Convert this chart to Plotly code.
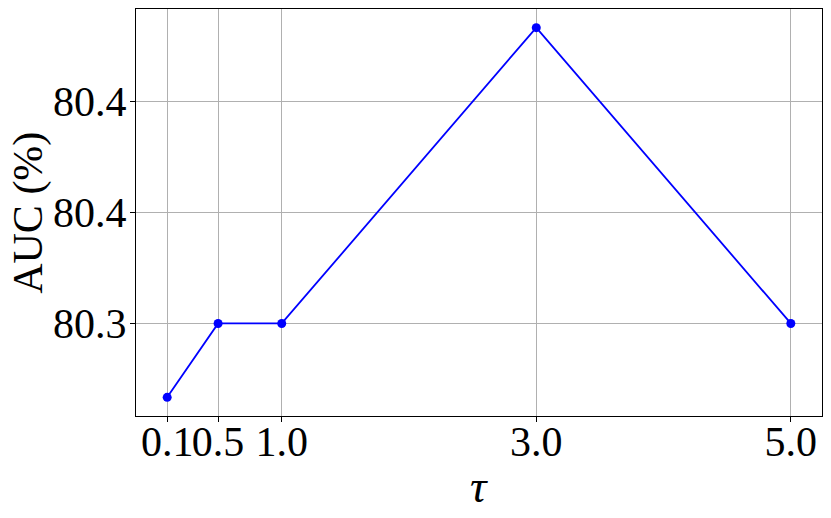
import plotly.graph_objects as go

tau = [0.1, 0.5, 1.0, 3.0, 5.0]
auc = [80.2667, 80.30, 80.30, 80.4333, 80.30]

y_tickvals = [80.30, 80.35, 80.40]
y_ticktext = ["80.3", "80.4", "80.4"]
x_ticktext = ["0.1", "0.5", "1.0", "3.0", "5.0"]

font_family = "Liberation Serif"

fig = go.Figure()

fig.add_trace(
    go.Scatter(
        x=tau,
        y=auc,
        mode="lines+markers",
        line=dict(color="#0000ff", width=1.8),
        marker=dict(color="#0000ff", size=9),
        showlegend=False,
    )
)

# the page body has an 8px margin, so the figure is shrunk to fit the window
fig.update_layout(
    width=823,
    height=510,
    margin=dict(l=128, r=9, t=1, b=102, autoexpand=False),
    paper_bgcolor="white",
    plot_bgcolor="white",
    font=dict(family=font_family, color="black"),
)

axis_style = dict(
    tickfont=dict(size=42, family=font_family),
    tickangle=0,
    ticks="outside",
    ticklen=5,
    tickcolor="black",
    showgrid=True,
    gridcolor="#b0b0b0",
    gridwidth=1,
    showline=True,
    linecolor="black",
    linewidth=1,
    mirror=True,
    zeroline=False,
    automargin=False,
)

fig.update_xaxes(
    range=[-0.145, 5.245], tickvals=tau, ticktext=x_ticktext,
    ticklabelstandoff=-16, **axis_style
)
fig.update_yaxes(
    range=[80.2583, 80.4417], tickvals=y_tickvals, ticktext=y_ticktext,
    ticklabelstandoff=-5, **axis_style
)

fig.add_annotation(
    text="<i>τ</i>",
    xref="paper", yref="paper",
    x=0.5, y=-0.174,
    xanchor="center", yanchor="middle",
    showarrow=False,
    font=dict(size=46, family=font_family),
)
fig.add_annotation(
    text="AUC (%)",
    xref="paper", yref="paper",
    x=-0.157, y=0.5,
    xanchor="center", yanchor="middle",
    textangle=-90,
    showarrow=False,
    font=dict(size=42, family=font_family),
)

fig.write_html("out.html")
